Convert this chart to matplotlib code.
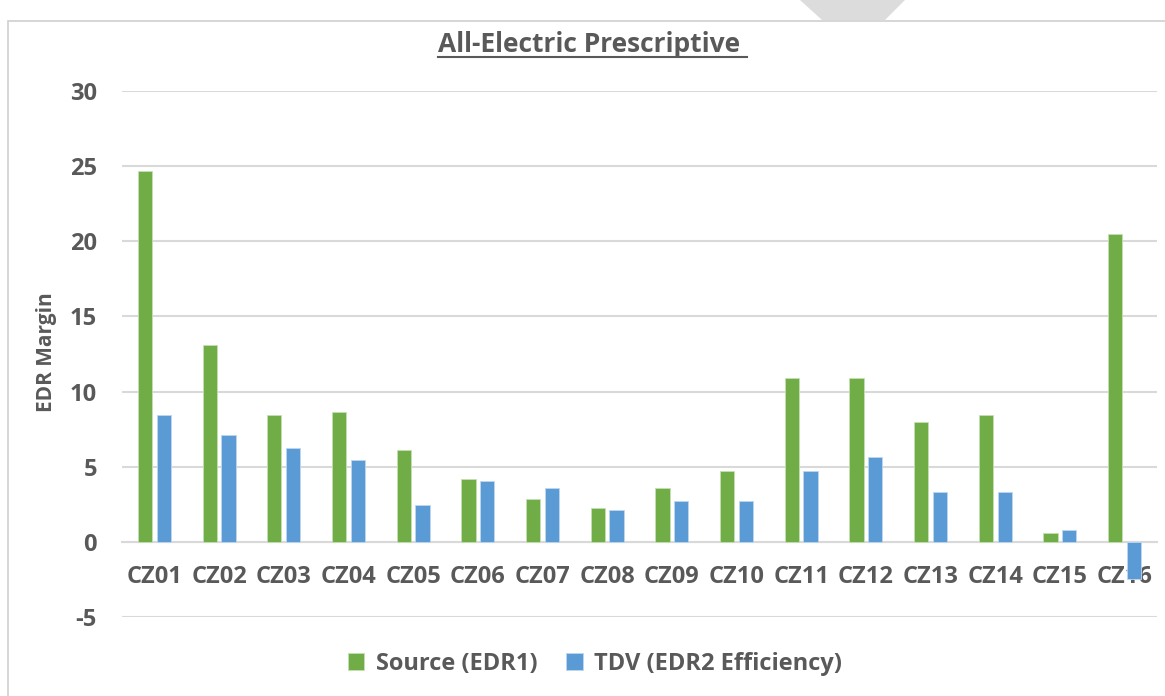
import matplotlib
matplotlib.use("Agg")
import matplotlib.pyplot as plt
import numpy as np
from matplotlib.lines import Line2D
from matplotlib.patches import Rectangle, Polygon

categories = ["CZ01", "CZ02", "CZ03", "CZ04", "CZ05", "CZ06", "CZ07", "CZ08",
              "CZ09", "CZ10", "CZ11", "CZ12", "CZ13", "CZ14", "CZ15", "CZ16"]
source_edr1 = [24.65, 13.08, 8.45, 8.63, 6.1, 4.19, 2.83, 2.27,
               3.6, 4.74, 10.92, 10.92, 7.95, 8.41, 0.6, 20.5]
tdv_edr2 = [8.45, 7.1, 6.23, 5.44, 2.43, 4.07, 3.6, 2.15,
            2.72, 2.72, 4.74, 5.62, 3.32, 3.32, 0.8, -2.5]
series_names = ["Source (EDR1)", "TDV (EDR2 Efficiency)"]
yticks = [-5, 0, 5, 10, 15, 20, 25, 30]

GREEN = "#70ad47"
BLUE = "#5b9bd5"
TXT = "#595959"
GRID = "#d9d9d9"

plt.rcParams['font.family'] = ['Open Sans', 'DejaVu Sans']

W, H = 1165, 696
fig = plt.figure(figsize=(W / 100, H / 100), dpi=100)
ax = fig.add_axes([122 / W, 1 - 617 / H, (1157 - 122) / W, (617 - 91) / H])

x = np.arange(len(categories))
bw = 0.22
off = 0.145
ax.bar(x - off, source_edr1, bw, color=GREEN, edgecolor="#c5e0b4", linewidth=0.6,
       label=series_names[0], zorder=3)
ax.bar(x + off, tdv_edr2, bw, color=BLUE, edgecolor="#bdd7ee", linewidth=0.6,
       label=series_names[1], zorder=3)

ax.set_xlim(-0.5, len(categories) - 0.5)
ax.set_ylim(-5, 30)
ax.set_yticks(yticks)
ax.set_yticklabels([str(v) for v in yticks], fontsize=17, fontweight='bold', color=TXT)
ax.yaxis.grid(True, color=GRID, linewidth=1.5, zorder=0)
ax.set_axisbelow(True)
for s in ["top", "right", "left"]:
    ax.spines[s].set_visible(False)
ax.spines["bottom"].set_position(("data", 0))
ax.spines["bottom"].set_color(GRID)
ax.spines["bottom"].set_linewidth(1.5)
ax.spines["bottom"].set_zorder(2)
ax.set_xticks(x)
ax.set_xticklabels(categories, fontsize=17, fontweight='bold', color=TXT)
ax.tick_params(axis="x", length=0, pad=17)
ax.tick_params(axis="y", length=0, pad=18)
ax.set_ylabel("EDR Margin", fontsize=15, fontweight='bold', color=TXT)
ax.yaxis.set_label_coords((57 - 122) / 1035, (617 - 352) / 526)

fig.legend(loc="center", bbox_to_anchor=(595 / W, 1 - 664 / H), ncol=2, frameon=False,
           prop={'weight': 'bold', 'size': 17}, handlelength=0.7, handleheight=0.7,
           columnspacing=1.2, handletextpad=0.5, labelcolor=TXT)

title = fig.text(592 / W, 1 - 45 / H, "All-Electric Prescriptive ", ha="center", va="center",
                 fontsize=19, fontweight='bold', color=TXT)

# chart frame and top artifact
fig.add_artist(Rectangle((8 / W, -0.1), 1.2, 1 - 21 / H + 0.1, transform=fig.transFigure,
                         fill=False, edgecolor="#d0d0d0", linewidth=1.2))
fig.add_artist(Polygon([(800 / W, 1.0), (905 / W, 1.0), (885 / W, 1 - 20 / H), (822 / W, 1 - 20 / H)],
                       closed=True, transform=fig.transFigure, facecolor="#dcdcdc", edgecolor="none"))

fig.canvas.draw()
bb = title.get_window_extent(fig.canvas.get_renderer())
uy = (bb.y0 + 2) / H
fig.add_artist(Line2D([bb.x0 / W, bb.x1 / W], [uy, uy], transform=fig.transFigure,
                      color=TXT, linewidth=1.5))

fig.savefig("out.png", dpi=100)
